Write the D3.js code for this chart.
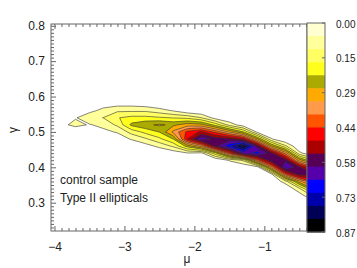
<!DOCTYPE html>
<html>
<head>
<meta charset="utf-8">
<script src="https://cdn.jsdelivr.net/npm/d3@7"></script>
<style>
body { margin: 0; background: #fff; }
text { font-family: "Liberation Sans", Arial, sans-serif; fill: #222; }
</style>
</head>
<body>
<svg width="357" height="268"></svg>
<script>
// grid: density x100, rows follow gammaRows, columns follow muCols
const muCols = [-3.9, -3.7, -3.5, -3.3, -3.1, -2.9, -2.7, -2.5, -2.3, -2.1, -1.9, -1.7, -1.5, -1.3, -1.1, -0.9, -0.7, -0.5, -0.3];
const gammaRows = [0.58, 0.56, 0.54, 0.52, 0.50, 0.48, 0.46, 0.44, 0.42, 0.40, 0.38, 0.36, 0.34, 0.32, 0.30];
const density = [
  [0, 0, 0, 3, 3, 3, 2, 0, 0, 0, 0, 0, 0, 0, 0, 0, 0, 0, 0],
  [0, 0, 4, 7, 10, 10, 10, 8, 5, 1, 0, 0, 0, 0, 0, 0, 0, 0, 0],
  [0, 5, 9, 11, 16, 18, 18, 17, 16, 15, 11, 3, 0, 0, 0, 0, 0, 0, 0],
  [4, 7, 5, 7, 12, 23, 26, 28, 26, 30, 29, 20, 9, 2, 0, 0, 0, 0, 0],
  [2, 1, 1, 4, 6, 13, 18, 22, 34, 45, 50, 42, 32, 22, 4, 0, 0, 0, 0],
  [0, 0, 0, 1, 2, 6, 10, 15, 22, 49, 64, 58, 56, 50, 28, 6, 0, 0, 0],
  [0, 0, 0, 0, 0, 0, 3, 7, 12, 24, 35, 57, 70, 84, 57, 28, 12, 0, 0],
  [0, 0, 0, 0, 0, 0, 0, 0, 2, 5, 4, 20, 42, 62, 68, 56, 36, 7, 0],
  [0, 0, 0, 0, 0, 0, 0, 0, 0, 0, 0, 0, 6, 12, 40, 60, 58, 30, 16],
  [0, 0, 0, 0, 0, 0, 0, 0, 0, 0, 0, 0, 0, 0, 2, 35, 66, 56, 40],
  [0, 0, 0, 0, 0, 0, 0, 0, 0, 0, 0, 0, 0, 0, 0, 3, 40, 57, 56],
  [0, 0, 0, 0, 0, 0, 0, 0, 0, 0, 0, 0, 0, 0, 0, 0, 8, 30, 45],
  [0, 0, 0, 0, 0, 0, 0, 0, 0, 0, 0, 0, 0, 0, 0, 0, 0, 10, 28],
  [0, 0, 0, 0, 0, 0, 0, 0, 0, 0, 0, 0, 0, 0, 0, 0, 0, 2, 12],
  [0, 0, 0, 0, 0, 0, 0, 0, 0, 0, 0, 0, 0, 0, 0, 0, 0, 0, 2]
];

const levelColors = ['#ffffd2', '#ffff9c', '#ffff64', '#ffff1e', '#aaaa00', '#ffaa00', '#ff9a4a',
  '#ff5500', '#ff0000', '#aa0000', '#550055', '#5500aa', '#0000ff', '#0000aa', '#000055', '#000000'];
const cbMax = 0.87;
const cbTickValues = [0, 0.145, 0.29, 0.435, 0.58, 0.725, 0.87];
const cbTickLabels = ['0.00', '0.15', '0.29', '0.44', '0.58', '0.73', '0.87'];
const xTicks = [-4, -3, -2, -1];
const yTicks = [0.3, 0.4, 0.5, 0.6, 0.7, 0.8];
const notes = ['control sample', 'Type II ellipticals'];

const svg = d3.select('svg');

//plot box
const box = { left: 51, right: 307, top: 24, bottom: 231 };

const x = d3.scaleLinear().domain([-4.05, -0.39]).range([box.left, box.right]);
const y = d3.scaleLinear().domain([0.22, 0.805]).range([box.bottom, box.top]);

svg.append('clipPath').attr('id', 'plotclip')
  .append('rect')
  .attr('x', box.left).attr('y', box.top)
  .attr('width', box.right - box.left).attr('height', box.bottom - box.top);

//contours
const n = muCols.length, m = gammaRows.length;
const dmu = muCols[1] - muCols[0];
const dg = gammaRows[1] - gammaRows[0];
const values = density.flat().map(v => v / 100);
const levels = d3.range(1, levelColors.length).map(k => k * cbMax / levelColors.length);

const contours = d3.contours().size([n, m]).thresholds(levels)(values);

const gridProj = d3.geoTransform({
  point: function (px, py) {
    this.stream.point(x(muCols[0] + (px - 0.5) * dmu), y(gammaRows[0] + (py - 0.5) * dg));
  }
});
const path = d3.geoPath(gridProj);

svg.append('g')
  .attr('clip-path', 'url(#plotclip)')
  .selectAll('path')
  .data(contours)
  .enter()
  .append('path')
  .attr('d', path)
  .attr('fill', (d, i) => levelColors[i + 1])
  .attr('stroke', '#333')
  .attr('stroke-width', 0.6)
  .attr('stroke-linejoin', 'round');

//axes, ticks pointing inward
const minorX = d3.range(-40, -3).map(v => v / 10).filter(v => !xTicks.includes(v));
const minorY = d3.range(23, 81).map(v => v / 100).filter(v => !yTicks.some(t => Math.abs(t - v) < 1e-6));

const axisColor = '#666';

const gx = svg.append('g').attr('transform', `translate(0,${box.bottom})`);
gx.call(d3.axisBottom(x).tickValues(xTicks).tickSize(-5).tickPadding(11).tickFormat(d3.format('d')));
gx.append('g').call(d3.axisBottom(x).tickValues(minorX).tickSize(-3).tickFormat(''));

const gxt = svg.append('g').attr('transform', `translate(0,${box.top})`);
gxt.call(d3.axisTop(x).tickValues(xTicks).tickSize(-5).tickFormat(''));
gxt.append('g').call(d3.axisTop(x).tickValues(minorX).tickSize(-3).tickFormat(''));

const gy = svg.append('g').attr('transform', `translate(${box.left},0)`);
gy.call(d3.axisLeft(y).tickValues(yTicks).tickSize(-5).tickPadding(6).tickFormat(d3.format('.1f')));
gy.append('g').call(d3.axisLeft(y).tickValues(minorY).tickSize(-3).tickFormat(''));

svg.selectAll('.domain').remove();
svg.selectAll('.tick line').attr('stroke', axisColor);
svg.selectAll('.tick text').attr('font-size', 12).attr('fill', '#222')
  .attr('font-family', '"Liberation Sans", Arial, sans-serif');

svg.append('rect')
  .attr('x', box.left).attr('y', box.top)
  .attr('width', box.right - box.left).attr('height', box.bottom - box.top)
  .attr('fill', 'none').attr('stroke', axisColor).attr('stroke-width', 1);

//colour bar
const cbLeft = 307, cbRight = 325;
const cb = d3.scaleLinear().domain([0, cbMax]).range([23, 232]);
const bandH = cbMax / levelColors.length;

svg.append('g').selectAll('rect')
  .data(levelColors)
  .enter()
  .append('rect')
  .attr('x', cbLeft)
  .attr('y', (d, i) => cb(i * bandH))
  .attr('width', cbRight - cbLeft)
  .attr('height', cb(bandH) - cb(0) + 0.5)
  .attr('fill', d => d);

svg.append('rect')
  .attr('x', cbLeft).attr('y', cb(0))
  .attr('width', cbRight - cbLeft).attr('height', cb(cbMax) - cb(0))
  .attr('fill', 'none').attr('stroke', axisColor).attr('stroke-width', 1);

const cbAxis = svg.append('g').attr('transform', `translate(${cbRight},0)`);
cbAxis.selectAll('line')
  .data(cbTickValues)
  .enter()
  .append('line')
  .attr('x1', -3).attr('x2', 0)
  .attr('y1', d => cb(d)).attr('y2', d => cb(d))
  .attr('stroke', axisColor);

cbAxis.selectAll('text')
  .data(cbTickValues)
  .enter()
  .append('text')
  .attr('x', 11)
  .attr('y', d => cb(d) + 1)
  .attr('dy', '0.35em')
  .attr('font-size', 10)
  .attr('fill', '#333')
  .text((d, i) => cbTickLabels[i]);

//titles
svg.append('text')
  .text('μ')
  .attr('x', 187)
  .attr('y', 263)
  .attr('text-anchor', 'middle')
  .attr('font-size', 12);

svg.append('text')
  .text('γ')
  .attr('transform', 'translate(17,130) rotate(-90)')
  .attr('text-anchor', 'middle')
  .attr('font-size', 12);

svg.append('g').selectAll('text')
  .data(notes)
  .enter()
  .append('text')
  .attr('x', 60)
  .attr('y', (d, i) => 184 + i * 18)
  .attr('font-size', 12)
  .text(d => d);
</script>
</body>
</html>
